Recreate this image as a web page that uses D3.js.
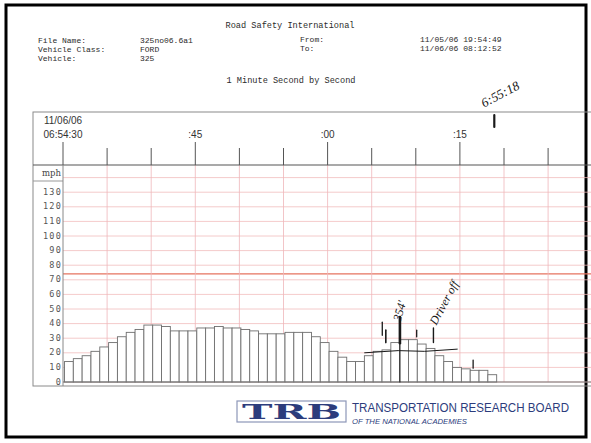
<!DOCTYPE html>
<html lang="en">
<head>
<meta charset="UTF-8">
<title>Road Safety International - 1 Minute Second by Second</title>
<style>
  body { margin: 0; background: #fff; }
  svg { display: block; }
  .mono { font-family: "Liberation Mono", "DejaVu Sans Mono", monospace; fill: #2b2b2b; font-size: 8px; }
  .pen { font-family: "Liberation Serif", serif; font-style: italic; fill: #151515; }
</style>
</head>
<body>
<div id="chart"></div>
<script src="https://d3js.org/d3.v7.min.js"></script>
<script>
// one bar per second, starting 11/06/06 06:54:30
const startTime = new Date(2006, 10, 6, 6, 54, 30);
const speedMph = [14, 16, 18, 21, 24, 27, 31, 34, 36, 39,
                  39, 38, 35, 35, 35, 37, 37, 38, 37, 37,
                  36, 35, 33, 33, 33, 34, 34, 34, 31, 27,
                  21, 17, 14, 14, 18, 21, 22, 27, 29, 29,
                  26, 23, 18, 14, 10, 9, 8, 8, 5];
const yTicks = [0, 10, 20, 30, 40, 50, 60, 70, 80, 90, 100, 110, 120, 130];
const xTickSeconds = [0, 5, 10, 15, 20, 25, 30, 35, 40, 45, 50, 55];
const xTickLabels = {0: "06:54:30", 15: ":45", 30: ":00", 45: ":15"};
const limitMph = 74;

// handwritten notes on the printout (seconds from start, mph)
const penStrokes = [
  {s: 38.2, a: 44.5, b: 26.5, w: 2.6},
  {s: 38.2, a: 26.5, b: 0, w: 1},
  {s: 36.2, a: 41, b: 32, w: 1.3},
  {s: 36.6, a: 35.5, b: 27, w: 1.6},
  {s: 40.1, a: 35.5, b: 31, w: 1.3},
  {s: 42.0, a: 37, b: 27, w: 1.4},
  {s: 46.5, a: 15, b: 9.5, w: 1.3}
];
const penTexts = [
  {text: "354'", s: 38.6, mph: 48, rot: -75, size: 12},
  {text: "Driver off", s: 43.6, mph: 53, rot: -62, size: 12}
];

const width = 591, height = 443;
const svg = d3.select("#chart").append("svg").attr("width", width).attr("height", height);

const box = {left: 33, top: 112, bottom: 386, right: 600};
const headerLine = 165, plotBottom = 382;

const x = d3.scaleTime()
  .domain([startTime, d3.timeSecond.offset(startTime, 60)])
  .range([63, 63 + 60 * 8.82]);
const y = d3.scaleLinear().domain([0, 140]).range([plotBottom, plotBottom - 14 * 14.6]);
const sec = s => x(startTime.getTime() + s * 1000);

// outer frame
svg.append("rect").attr("x", 6).attr("y", 5).attr("width", 580).attr("height", 432)
  .attr("fill", "#fff").attr("stroke", "#000").attr("stroke-width", 3);

// report header
svg.append("text").attr("class", "mono").attr("x", 290).attr("y", 28)
  .attr("text-anchor", "middle").style("font-size", "8.6px").text("Road Safety International");
const hdrRows = [["File Name:", "325no06.6a1"], ["Vehicle Class:", "FORD"], ["Vehicle:", "325"]];
hdrRows.forEach((r, i) => {
  svg.append("text").attr("class", "mono").attr("x", 38).attr("y", 43 + i * 9).text(r[0]);
  svg.append("text").attr("class", "mono").attr("x", 140).attr("y", 43 + i * 9).text(r[1]);
});
[["From:", "11/05/06 19:54:49"], ["To:", "11/06/06 08:12:52"]].forEach((r, i) => {
  svg.append("text").attr("class", "mono").attr("x", 300).attr("y", 42 + i * 9).text(r[0]);
  svg.append("text").attr("class", "mono").attr("x", 420).attr("y", 42 + i * 9).text(r[1]);
});
svg.append("text").attr("class", "mono").attr("x", 291).attr("y", 83)
  .attr("text-anchor", "middle").style("font-size", "8.6px").text("1 Minute Second by Second");

// chart box
svg.append("rect").attr("x", box.left).attr("y", box.top)
  .attr("width", box.right - box.left).attr("height", box.bottom - box.top)
  .attr("fill", "none").attr("stroke", "#8a8a8a").attr("stroke-width", 1);

// gridlines
const g = svg.append("g");
g.selectAll(".hgrid").data(d3.range(0, 150, 10)).enter().append("line")
  .attr("x1", 63).attr("x2", box.right)
  .attr("y1", d => y(d)).attr("y2", d => y(d))
  .attr("stroke", "#f0b8b8").attr("stroke-width", 0.75);
g.append("line").attr("x1", 63).attr("x2", box.right)
  .attr("y1", y(limitMph)).attr("y2", y(limitMph))
  .attr("stroke", "#e6735f").attr("stroke-width", 1.3);
g.selectAll(".vgrid").data(xTickSeconds.slice(1)).enter().append("line")
  .attr("x1", d => sec(d)).attr("x2", d => sec(d))
  .attr("y1", headerLine).attr("y2", plotBottom)
  .attr("stroke", "#efb6ba").attr("stroke-width", 0.8);

// time ticks on top
g.selectAll(".tick").data(xTickSeconds).enter().append("line")
  .attr("x1", d => sec(d)).attr("x2", d => sec(d))
  .attr("y1", d => (d in xTickLabels) ? 142 : 148).attr("y2", headerLine)
  .attr("stroke", "#555").attr("stroke-width", 1);
g.selectAll(".tlab").data(Object.keys(xTickLabels)).enter().append("text")
  .attr("x", d => sec(+d)).attr("y", 138)
  .attr("text-anchor", "middle")
  .style("font-family", "Liberation Sans, Arial, sans-serif").style("font-size", "10px")
  .attr("fill", "#333").text(d => xTickLabels[d]);
svg.append("text").attr("x", 63).attr("y", 124).attr("text-anchor", "middle")
  .style("font-family", "Liberation Sans, Arial, sans-serif").style("font-size", "10px")
  .attr("fill", "#333").text("11/06/06");

// header separator, mph cell, axes
svg.append("line").attr("x1", box.left).attr("x2", box.right).attr("y1", headerLine).attr("y2", headerLine)
  .attr("stroke", "#555").attr("stroke-width", 1.2);
svg.append("line").attr("x1", box.left).attr("x2", 63).attr("y1", 181).attr("y2", 181)
  .attr("stroke", "#999").attr("stroke-width", 1);
svg.append("line").attr("x1", 63).attr("x2", 63).attr("y1", headerLine).attr("y2", box.bottom)
  .attr("stroke", "#888").attr("stroke-width", 1);
svg.append("text").attr("x", 61).attr("y", 176).attr("text-anchor", "end")
  .style("font-family", "DejaVu Serif, serif").style("font-size", "8.5px").attr("fill", "#444").text("mph");
svg.selectAll(".ylab").data(yTicks).enter().append("text")
  .attr("x", 62).attr("y", d => y(d) + 2.5).attr("text-anchor", "end")
  .style("font-family", "DejaVu Sans Mono, monospace").style("font-size", "8.5px")
  .style("letter-spacing", "1.2px").attr("fill", "#555").text(d => d);

// bars
svg.selectAll(".bar").data(speedMph).enter().append("rect")
  .attr("class", "bar")
  .attr("x", (d, i) => sec(i) + 1.5)
  .attr("y", d => y(d))
  .attr("width", sec(1) - sec(0))
  .attr("height", d => plotBottom - y(d))
  .attr("fill", "#fff").attr("stroke", "#6e6e6e").attr("stroke-width", 0.9);

svg.append("line").attr("x1", 63).attr("x2", box.right).attr("y1", plotBottom).attr("y2", plotBottom)
  .attr("stroke", "#777").attr("stroke-width", 1.2);

// pen marks
const pen = svg.append("g").attr("stroke", "#1a1a1a").attr("fill", "none").attr("stroke-linecap", "round");
pen.selectAll("line").data(penStrokes).enter().append("line")
  .attr("x1", d => sec(d.s)).attr("x2", d => sec(d.s))
  .attr("y1", d => y(d.a)).attr("y2", d => y(d.b)).attr("stroke-width", d => d.w);
pen.append("path")
  .attr("d", d3.line()([[sec(34.2), y(20)], [sec(38), y(21.5)], [sec(41), y(21)], [sec(44.7), y(22.5)]]))
  .attr("stroke-width", 1);
pen.append("line").attr("x1", sec(48.9)).attr("x2", sec(48.9)).attr("y1", 115).attr("y2", 127)
  .attr("stroke-width", 2.2);
svg.selectAll(".ptext").data(penTexts).enter().append("text")
  .attr("class", "pen")
  .attr("transform", d => `translate(${sec(d.s)},${y(d.mph)}) rotate(${d.rot})`)
  .attr("text-anchor", "middle").style("font-size", d => d.size + "px").text(d => d.text);
svg.append("text").attr("class", "pen")
  .attr("transform", `translate(${sec(49.8)},98) rotate(-28)`)
  .attr("text-anchor", "middle").style("font-size", "13px").text("6:55:18");

// TRB footer
const foot = svg.append("g");
foot.append("rect").attr("x", 237).attr("y", 401).attr("width", 109).attr("height", 21)
  .attr("fill", "#fff").attr("stroke", "#8d97b8").attr("stroke-width", 1.2);
foot.append("text").attr("x", 242).attr("y", 419)
  .attr("textLength", 99).attr("lengthAdjust", "spacingAndGlyphs")
  .style("font-family", "DejaVu Serif, serif").style("font-weight", "bold").style("font-size", "20px")
  .attr("fill", "#2c3c7c").text("TRB");
foot.append("text").attr("x", 352).attr("y", 412)
  .attr("textLength", 217).attr("lengthAdjust", "spacingAndGlyphs")
  .style("font-family", "Liberation Sans, Arial, sans-serif").style("font-size", "12.5px")
  .attr("fill", "#2c3c7c").text("TRANSPORTATION RESEARCH BOARD");
foot.append("text").attr("x", 352).attr("y", 424)
  .attr("textLength", 115).attr("lengthAdjust", "spacingAndGlyphs")
  .style("font-family", "Liberation Sans, Arial, sans-serif").style("font-style", "italic").style("font-size", "6.5px")
  .attr("fill", "#2c3c7c").text("OF THE NATIONAL ACADEMIES");
</script>
</body>
</html>
